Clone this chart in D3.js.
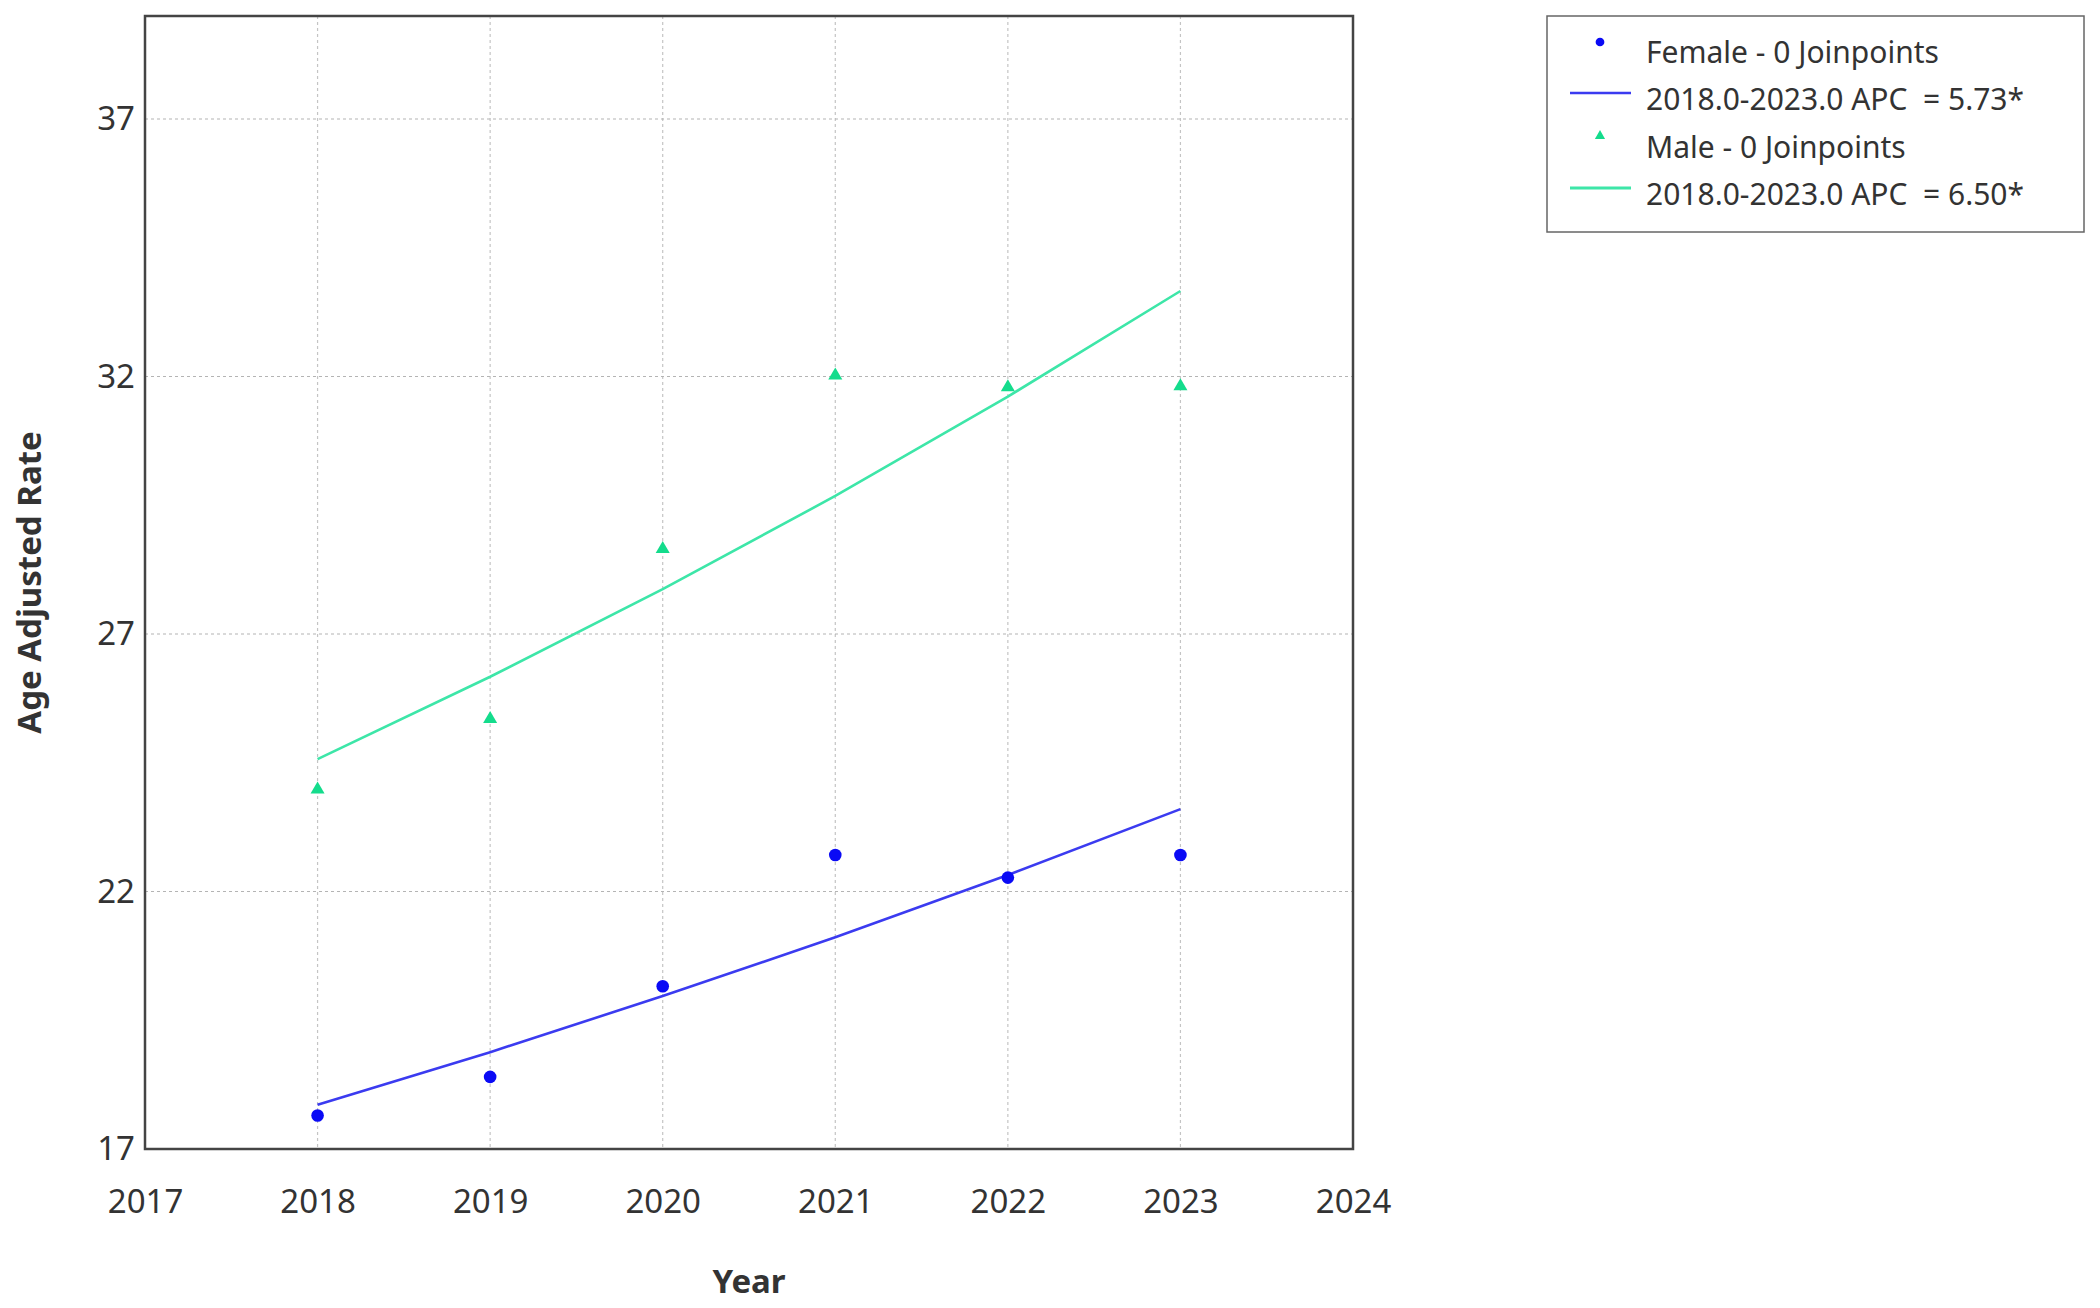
<!DOCTYPE html>
<html>
<head>
<meta charset="utf-8">
<script src="https://cdn.jsdelivr.net/npm/d3@7"></script>
<style>
  body { margin: 0; background: #fff; }
  text { font-family: "Noto Sans", "Open Sans", sans-serif; fill: #333; }
</style>
</head>
<body>
<svg id="chart"></svg>
<script>
const years = [2018, 2019, 2020, 2021, 2022, 2023];
const femaleObs = [17.65, 18.40, 20.16, 22.71, 22.27, 22.71];
const maleObs = [23.98, 25.35, 28.65, 32.02, 31.79, 31.81];
// modelled (joinpoint) values
const femaleFit = [17.86, 18.88, 19.97, 21.11, 22.32, 23.60];
const maleFit = [24.57, 26.17, 27.87, 29.68, 31.61, 33.66];
const xTicks = [2017, 2018, 2019, 2020, 2021, 2022, 2023, 2024];
const yTicks = [17, 22, 27, 32, 37];
const legendLabels = ["Female - 0 Joinpoints", "2018.0-2023.0 APC  = 5.73*", "Male - 0 Joinpoints", "2018.0-2023.0 APC  = 6.50*"];

const W = 2100, H = 1308;
const margin = { top: 16, right: 747, bottom: 159, left: 145 };
const width = W - margin.left - margin.right;
const height = H - margin.top - margin.bottom;

const svg = d3.select("#chart").attr("width", W).attr("height", H);
const g = svg.append("g").attr("transform", `translate(${margin.left},${margin.top})`);

const x = d3.scaleLinear().domain([2017, 2024]).range([0, width]);
const y = d3.scaleLinear().domain([17, 39]).range([height, 0]);

// grid
g.append("g").selectAll("line").data(years).enter().append("line")
  .attr("x1", d => x(d)).attr("x2", d => x(d)).attr("y1", 0).attr("y2", height)
  .attr("stroke", "#c4c4c4").attr("stroke-width", 1.2).attr("stroke-dasharray", "3,3");
g.append("g").selectAll("line").data(yTicks.slice(1)).enter().append("line")
  .attr("x1", 0).attr("x2", width).attr("y1", d => y(d)).attr("y2", d => y(d))
  .attr("stroke", "#b4b4b4").attr("stroke-width", 1.2).attr("stroke-dasharray", "3,3");

// axes
const xAxis = g.append("g").attr("transform", `translate(0,${height})`)
  .call(d3.axisBottom(x).tickValues(xTicks).tickFormat(d3.format("d")).tickSize(0).tickPadding(41));
xAxis.select(".domain").remove();
xAxis.selectAll("text").style("font-size", "33px").attr("fill", "#333");

const yAxis = g.append("g")
  .call(d3.axisLeft(y).tickValues(yTicks).tickSize(0).tickPadding(10));
yAxis.select(".domain").remove();
yAxis.selectAll("text").style("font-size", "33px").attr("fill", "#333");

// frame
g.append("rect").attr("width", width).attr("height", height)
  .attr("fill", "none").attr("stroke", "#444").attr("stroke-width", 2.5);

// titles
svg.append("text")
  .attr("x", margin.left + width / 2).attr("y", 1293)
  .attr("text-anchor", "middle").style("font-size", "33px").style("font-weight", "bold")
  .attr("fill", "#111").text("Year");
svg.append("text")
  .attr("transform", `translate(41,${margin.top + height / 2}) rotate(-90)`)
  .attr("text-anchor", "middle").style("font-size", "33px").style("font-weight", "bold")
  .attr("fill", "#111").text("Age Adjusted Rate");

const series = [
  { obs: femaleObs, fit: femaleFit, pt: "#0a0af5", ln: "#3b3bf0", shape: d3.symbolCircle, size: 125 },
  { obs: maleObs, fit: maleFit, pt: "#14dc8c", ln: "#3de6a8", shape: d3.symbolTriangle, size: 85 }
];

const line = d3.line().x((d, i) => x(years[i])).y(d => y(d));

series.forEach(s => {
  g.append("path").datum(s.fit).attr("d", line)
    .attr("fill", "none").attr("stroke", s.ln).attr("stroke-width", 2.6);
  g.selectAll(null).data(s.obs).enter().append("path")
    .attr("d", d3.symbol().type(s.shape).size(s.size))
    .attr("transform", (d, i) => `translate(${x(years[i])},${y(d)})`)
    .attr("fill", s.pt);
});

// legend
const lg = svg.append("g").attr("transform", "translate(1547,16)");
lg.append("rect").attr("width", 537).attr("height", 216)
  .attr("fill", "#fff").attr("stroke", "#666").attr("stroke-width", 1.5);
const rowY = [36, 83, 131, 178];
legendLabels.forEach((t, i) => {
  lg.append("text").attr("x", 99).attr("y", rowY[i]).attr("dy", "0.35em")
    .style("font-size", "30px").style("white-space", "pre").attr("fill", "#222").text(t);
});
lg.append("path").attr("d", d3.symbol().type(d3.symbolCircle).size(60)())
  .attr("transform", `translate(53,${rowY[0] - 10})`).attr("fill", series[0].pt);
lg.append("line").attr("x1", 23).attr("x2", 84).attr("y1", rowY[1] - 6).attr("y2", rowY[1] - 6)
  .attr("stroke", series[0].ln).attr("stroke-width", 2.5);
lg.append("path").attr("d", d3.symbol().type(d3.symbolTriangle).size(45)())
  .attr("transform", `translate(53,${rowY[2] - 11})`).attr("fill", series[1].pt);
lg.append("line").attr("x1", 23).attr("x2", 84).attr("y1", rowY[3] - 6).attr("y2", rowY[3] - 6)
  .attr("stroke", series[1].ln).attr("stroke-width", 3);
</script>
</body>
</html>
